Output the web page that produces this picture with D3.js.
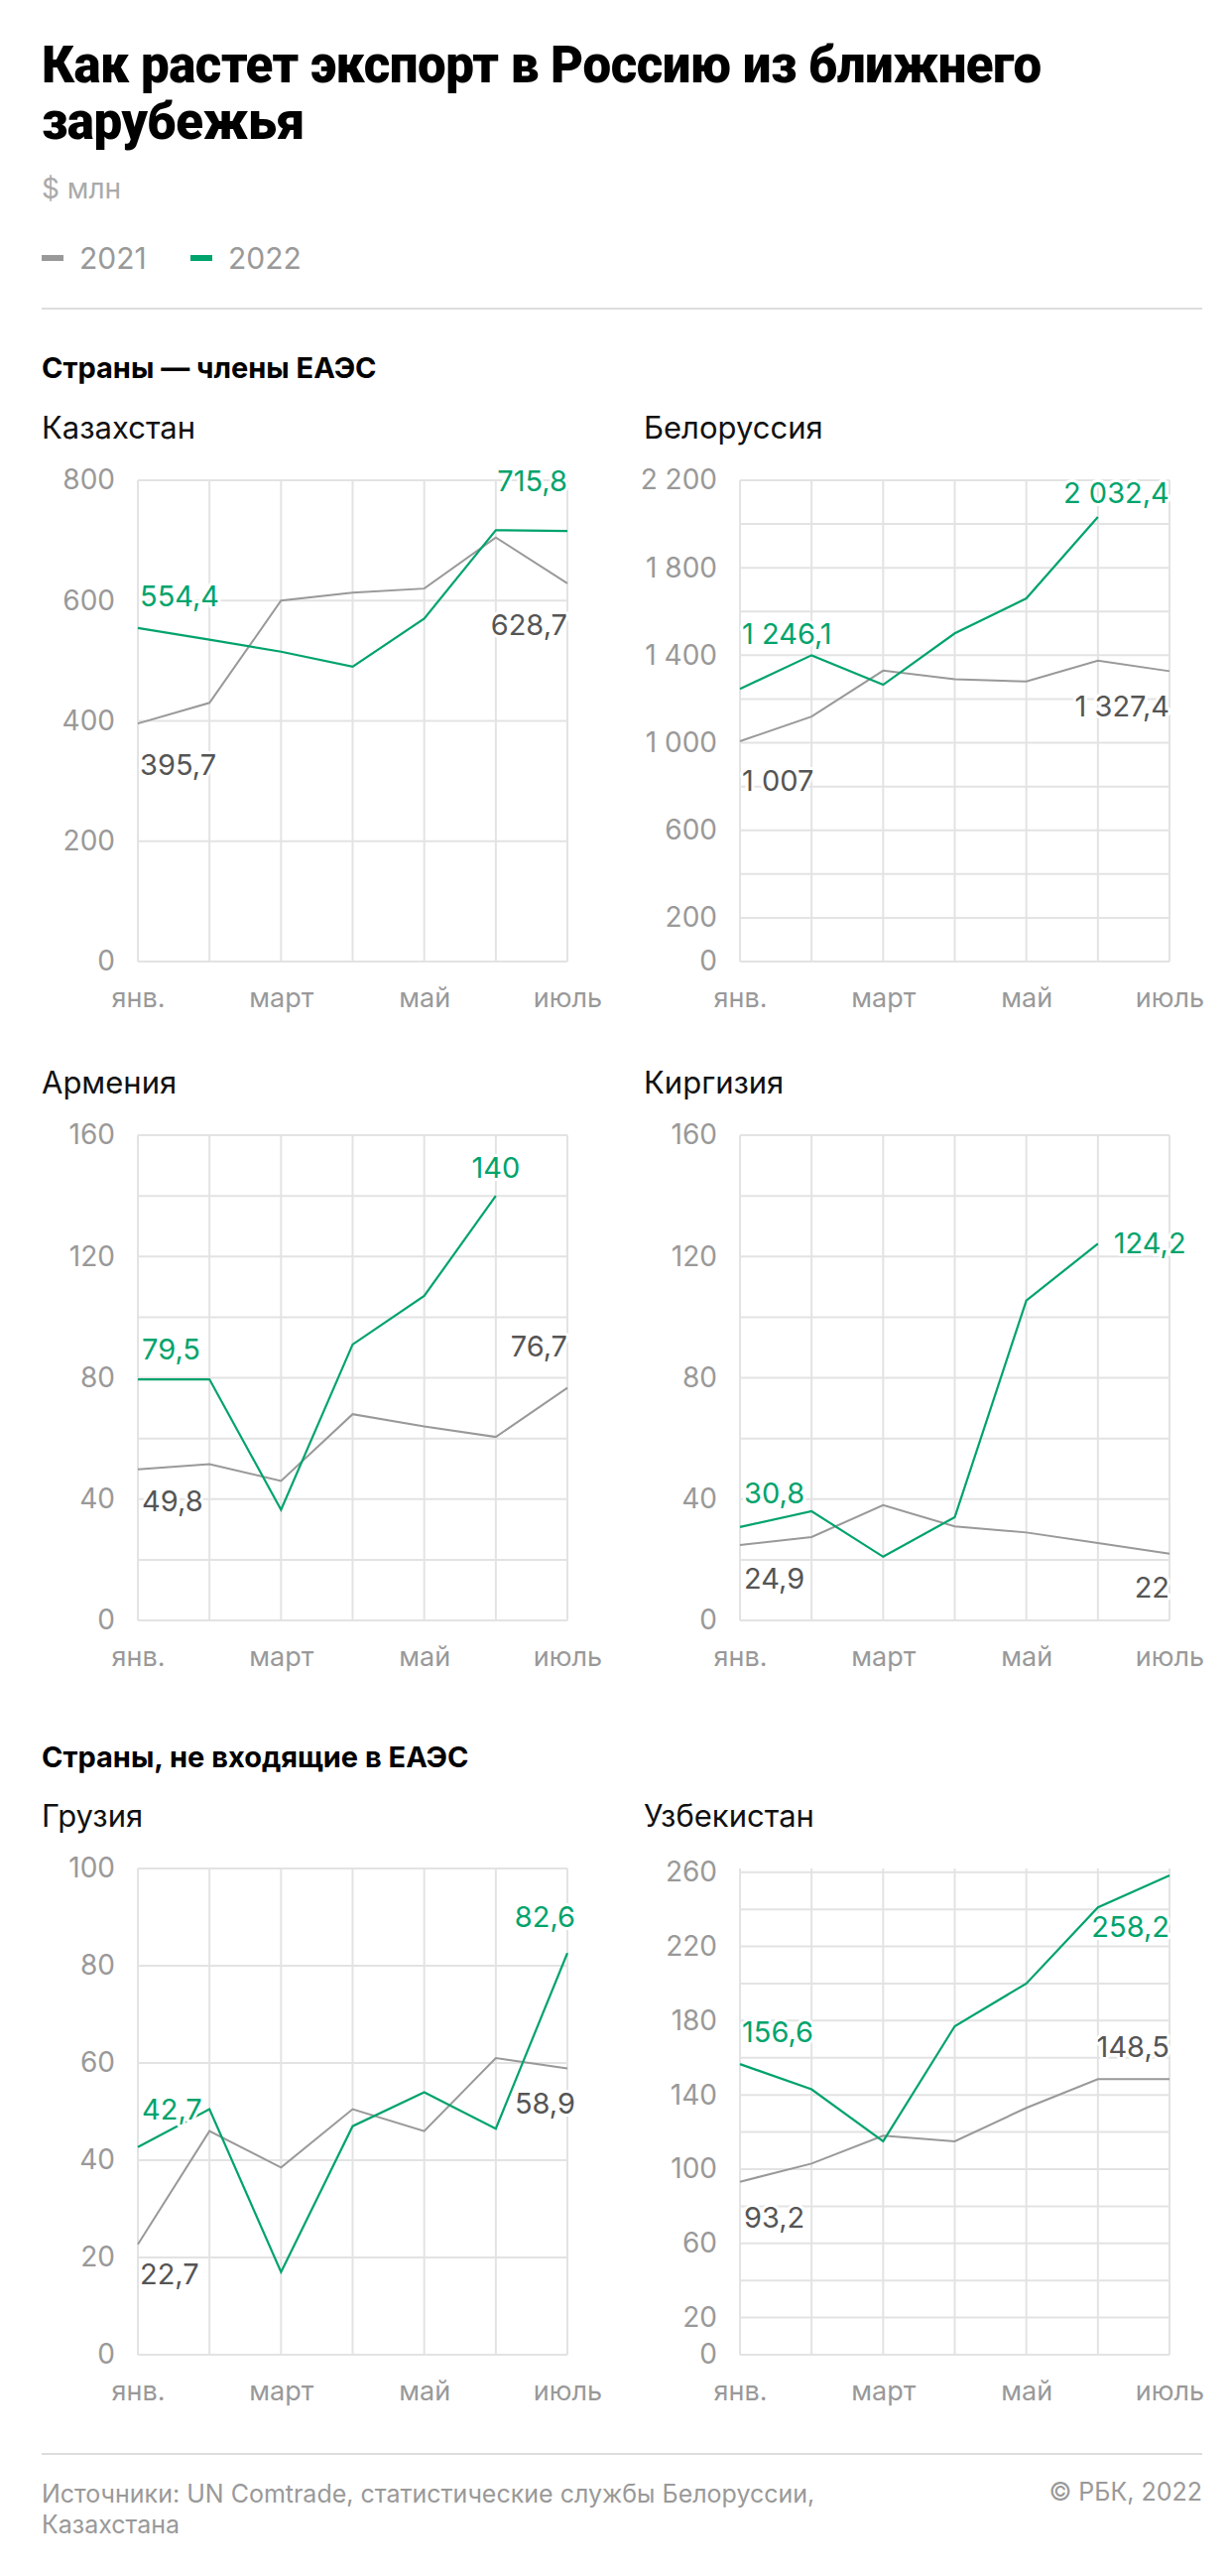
<!DOCTYPE html>
<html><head><meta charset="utf-8">
<script src="https://cdn.jsdelivr.net/npm/d3@7"></script>
<style>
body{margin:0;background:#fff;font-family:Inter,Roboto,sans-serif}
.lbl{paint-order:stroke;stroke:#fff;stroke-width:6px;stroke-linejoin:round}
</style></head><body><div id="chart"></div>
<script>
// Data, $ mln, Jan..Jul
var months = ["янв.", "фев.", "март", "апр.", "май", "июнь", "июль"];
var monthLabels = ["янв.", "", "март", "", "май", "", "июль"];

var kz2021 = [395.7, 430, 600, 613, 620, 705, 628.7];
var kz2022 = [554.4, 535, 515, 490, 570, 717, 715.8];
var by2021 = [1007, 1120, 1330, 1290, 1280, 1375, 1327.4];
var by2022 = [1246.1, 1400, 1265, 1500, 1660, 2032.4];
var am2021 = [49.8, 51.5, 46, 68, 64, 60.5, 76.7];
var am2022 = [79.5, 79.5, 36.5, 91, 107, 140];
var kg2021 = [24.9, 27.5, 38, 31, 29, 25.5, 22];
var kg2022 = [30.8, 36, 21, 34, 105.5, 124.2];
var ge2021 = [22.7, 46, 38.5, 50.5, 46, 61, 58.9];
var ge2022 = [42.7, 50.5, 17, 47, 54, 46.5, 82.6];
var uz2021 = [93.2, 103, 118, 115, 133, 148.5, 148.5];
var uz2022 = [156.6, 143, 115, 177, 200, 241, 258.2];

var kzTicks = [0, 200, 400, 600, 800];
var byTicks = [0, 200, 600, 1000, 1400, 1800, 2200];
var amTicks = [0, 40, 80, 120, 160];
var geTicks = [0, 20, 40, 60, 80, 100];
var uzTicks = [0, 20, 60, 100, 140, 180, 220, 260];

var GREEN = "#00a36c", GRAY = "#999", DARK = "#555";
var fmt = v => d3.format(",")(v).replace(/,/g, " ").replace(".", ",");

var svg = d3.select("#chart").append("svg").attr("width", 1240).attr("height", 2596);

function txt(x, y, s, size, fill, weight, anchor) {
  return svg.append("text").attr("x", x).attr("y", y).text(s)
    .attr("font-size", size).attr("fill", fill).attr("font-weight", weight || 400)
    .attr("text-anchor", anchor || "start");
}

txt(42, 83, "Как растет экспорт в Россию из ближнего", 51, "#000", 900).attr("font-family", "Roboto").attr("letter-spacing", -0.5);
txt(42, 140, "зарубежья", 51, "#000", 900).attr("font-family", "Roboto").attr("letter-spacing", -0.5);
txt(42, 200, "$ млн", 28, "#aaa");
svg.append("rect").attr("x", 42).attr("y", 257).attr("width", 22).attr("height", 6).attr("fill", GRAY);
txt(80, 271, "2021", 30, "#999");
svg.append("rect").attr("x", 192).attr("y", 257).attr("width", 22).attr("height", 6).attr("fill", GREEN);
txt(230, 271, "2022", 30, "#999");
svg.append("line").attr("x1", 42).attr("x2", 1212).attr("y1", 311).attr("y2", 311).attr("stroke", "#ddd").attr("stroke-width", 2);

txt(42, 381, "Страны — члены ЕАЭС", 29, "#000", 700);
txt(42, 1781, "Страны, не входящие в ЕАЭС", 29, "#000", 700);

function chart(o) {
  var x = d3.scaleLinear().domain([0, 6]).range([o.x0, o.x0 + 433]);
  var y = d3.scaleLinear().domain(o.domain).range([o.y0 + o.h, o.y0]);
  var g = svg.append("g");
  txt(o.x0 - 97, o.y0 - 42, o.name, 31, "#111");
  // grid
  g.selectAll(".hg").data(d3.range(o.domain[0], o.domain[1] + 0.01, o.grid)).enter().append("line")
    .attr("x1", o.x0).attr("x2", o.x0 + 433).attr("y1", d => y(d)).attr("y2", d => y(d))
    .attr("stroke", "#e3e3e3").attr("stroke-width", 2);
  g.selectAll(".vg").data(months).enter().append("line")
    .attr("x1", (d, i) => x(i)).attr("x2", (d, i) => x(i)).attr("y1", o.y0).attr("y2", o.y0 + o.h)
    .attr("stroke", "#e3e3e3").attr("stroke-width", 2);
  // axes
  var ya = g.append("g").attr("transform", `translate(${o.x0 - 20},0)`)
    .call(d3.axisLeft(y).tickValues(o.ticks).tickSize(0).tickFormat(fmt));
  ya.select(".domain").remove();
  ya.selectAll("text").attr("font-size", 28).attr("fill", "#999").attr("font-family", "Inter,Roboto,sans-serif");
  var xa = g.append("g").attr("transform", `translate(0,${o.y0 + o.h + 24})`)
    .call(d3.axisBottom(x).tickValues([0, 2, 4, 6]).tickSize(0).tickFormat(i => monthLabels[i]));
  xa.select(".domain").remove();
  xa.selectAll("text").attr("font-size", 27).attr("fill", "#999").attr("font-family", "Inter,Roboto,sans-serif");
  var line = d3.line().x((d, i) => x(i)).y(d => y(d));
  g.append("path").attr("d", line(o.a)).attr("fill", "none").attr("stroke", GRAY).attr("stroke-width", 2);
  g.append("path").attr("d", line(o.b)).attr("fill", "none").attr("stroke", GREEN).attr("stroke-width", 2.2);
  o.labels.forEach(function (l) {
    var s = l.s === "a" ? o.a : o.b;
    g.append("text").attr("class", "lbl").attr("x", x(l.i) + l.dx).attr("y", y(s[l.i]) + l.dy)
      .attr("text-anchor", l.anc || "start").attr("font-size", 29)
      .attr("fill", l.s === "a" ? DARK : GREEN).text(fmt(s[l.i]));
  });
}

var L = 139, R = 746, T1 = 484, H1 = 485, T2 = 1144, H2 = 489, T3 = 1883, H3 = 490;
chart({name: "Казахстан", x0: L, y0: T1, h: H1, domain: [0, 800], grid: 200, ticks: kzTicks, a: kz2021, b: kz2022,
  labels: [{s: "b", i: 0, dx: 2, dy: -22}, {s: "a", i: 0, dx: 2, dy: 52}, {s: "b", i: 6, dx: 0, dy: -40, anc: "end"}, {s: "a", i: 6, dx: 0, dy: 52, anc: "end"}]});
chart({name: "Белоруссия", x0: R, y0: T1, h: H1, domain: [0, 2200], grid: 200, ticks: byTicks, a: by2021, b: by2022,
  labels: [{s: "b", i: 0, dx: 2, dy: -45}, {s: "a", i: 0, dx: 2, dy: 50}, {s: "b", i: 5, dx: 72, dy: -14, anc: "end"}, {s: "a", i: 6, dx: 0, dy: 46, anc: "end"}]});
chart({name: "Армения", x0: L, y0: T2, h: H2, domain: [0, 160], grid: 20, ticks: amTicks, a: am2021, b: am2022,
  labels: [{s: "b", i: 0, dx: 4, dy: -20}, {s: "a", i: 0, dx: 4, dy: 42}, {s: "b", i: 5, dx: 0, dy: -18, anc: "middle"}, {s: "a", i: 6, dx: 0, dy: -32, anc: "end"}]});
chart({name: "Киргизия", x0: R, y0: T2, h: H2, domain: [0, 160], grid: 20, ticks: amTicks, a: kg2021, b: kg2022,
  labels: [{s: "b", i: 0, dx: 4, dy: -24}, {s: "a", i: 0, dx: 4, dy: 44}, {s: "b", i: 5, dx: 16, dy: 10}, {s: "a", i: 6, dx: 0, dy: 44, anc: "end"}]});
chart({name: "Грузия", x0: L, y0: T3, h: H3, domain: [0, 100], grid: 20, ticks: geTicks, a: ge2021, b: ge2022,
  labels: [{s: "b", i: 0, dx: 4, dy: -28}, {s: "a", i: 0, dx: 2, dy: 40}, {s: "b", i: 6, dx: 8, dy: -26, anc: "end"}, {s: "a", i: 6, dx: 8, dy: 46, anc: "end"}]});
chart({name: "Узбекистан", x0: R, y0: T3, h: H3, domain: [0, 262], grid: 20, ticks: uzTicks, a: uz2021, b: uz2022,
  labels: [{s: "b", i: 0, dx: 2, dy: -22}, {s: "a", i: 0, dx: 4, dy: 46}, {s: "b", i: 6, dx: 0, dy: 62, anc: "end"}, {s: "a", i: 6, dx: 0, dy: -22, anc: "end"}]});

svg.append("line").attr("x1", 42).attr("x2", 1212).attr("y1", 2473).attr("y2", 2473).attr("stroke", "#ddd").attr("stroke-width", 2);
txt(42, 2522, "Источники: UN Comtrade, статистические службы Белоруссии,", 25, "#999");
txt(42, 2553, "Казахстана", 25, "#999");
txt(1212, 2520, "© РБК, 2022", 25, "#999", 400, "end");
</script></body></html>
